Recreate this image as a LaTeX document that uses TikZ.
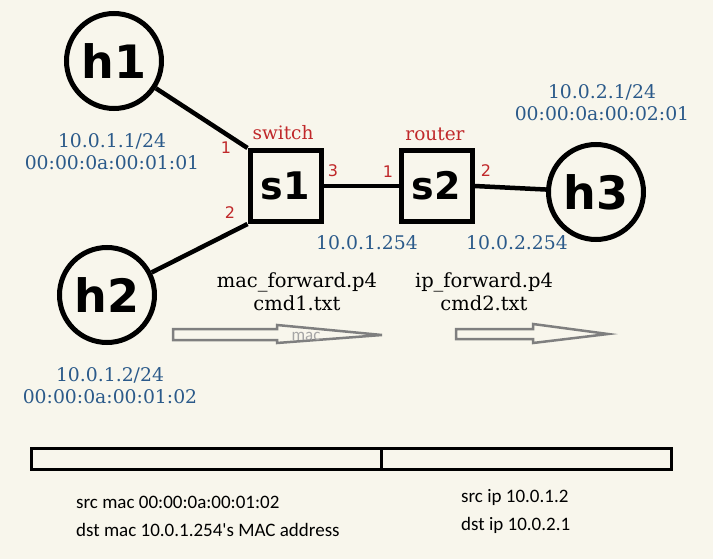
\documentclass[tikz,border=0pt]{standalone}
\usepackage{fontspec}
\newfontfamily\serifx{DejaVu Serif}
\newfontfamily\carl{Carlito}
\newfontfamily\handf{DejaVu Sans}
\definecolor{bgc}{HTML}{F8F6EC}
\definecolor{blu}{HTML}{2B5A8A}
\definecolor{rd}{HTML}{C0282A}
\definecolor{gry}{HTML}{7F7F7F}
\tikzset{
  host/.style={circle,draw,line width=5pt,minimum size=95pt,inner sep=0pt,font=\handf\bfseries\fontsize{46}{46}\selectfont},
  swbox/.style={rectangle,draw,line width=5pt,minimum size=71pt,inner sep=0pt,font=\handf\bfseries\fontsize{38}{38}\selectfont},
  link/.style={line width=4.5pt},
  bluetxt/.style={text=blu,font=\serifx\fontsize{18.8}{22.5}\selectfont,align=center,inner sep=0pt},
  blacktxt/.style={text=black,font=\serifx\fontsize{19.5}{23}\selectfont,align=center,inner sep=0pt},
  redtxt/.style={text=rd,font=\serifx\fontsize{18.5}{18.5}\selectfont,inner sep=0pt},
  porttxt/.style={text=rd,font=\handf\fontsize{16}{16}\selectfont,inner sep=0pt},
  bottxt/.style={font=\carl\fontsize{19}{19}\selectfont,inner sep=0pt,anchor=west},
  blockarrow/.style={draw=gry,line width=2.5pt,line join=miter},
}
\begin{document}
\begin{tikzpicture}[x=1pt,y=-1pt]
\fill[bgc] (0,0) rectangle (713,559);
\useasboundingbox (0,0) rectangle (713,559);

% hosts and switches
\node[host] (h1) at (114,61) {h1};
\node[host] (h2) at (107,295) {h2};
\node[host] (h3) at (596,192) {h3};
\node[swbox] (s1) at (285.5,186) {s1};
\node[swbox] (s2) at (436.5,186) {s2};

% links
\draw[link] (h1) -- (s1.north west);
\draw[link] (h2) -- (s1.south west);
\draw[link] (s1.east) -- (s2.west);
\draw[link] (s2.east) -- (h3);

% labels
\node[redtxt] (lsw) at (283,133) {switch};
\node[redtxt] (lrt) at (435,134) {router};
\node[porttxt] (p11) at (226,148) {1};
\node[porttxt] (p12) at (230,213) {2};
\node[porttxt] (p13) at (333,171) {3};
\node[porttxt] (p21) at (388,172) {1};
\node[porttxt] (p22) at (486,171) {2};

\node[bluetxt] (a1) at (112,151.5) {10.0.1.1/24\\00:00:0a:00:01:01};
\node[bluetxt] (a2) at (110,385.5) {10.0.1.2/24\\00:00:0a:00:01:02};
\node[bluetxt] (a3) at (602,102.5) {10.0.2.1/24\\00:00:0a:00:02:01};
\node[bluetxt] (g1) at (367,243) {10.0.1.254};
\node[bluetxt] (g2) at (517,243) {10.0.2.254};

\node[blacktxt] (f1) at (297,291.5) {mac\_forward.p4\\cmd1.txt};
\node[blacktxt] (f2) at (484,291.5) {ip\_forward.p4\\cmd2.txt};

% block arrows
\draw[blockarrow] (173,329) -- (277,329) -- (277,325) -- (382,335) -- (277,343) -- (277,340) -- (173,340) -- cycle;
\node[text=gry!70,font=\carl\fontsize{17}{17}\selectfont,inner sep=0pt] (mac) at (306,336) {mac};
\draw[blockarrow] (456,329) -- (533,329) -- (533,324) -- (608,334) -- (533,343) -- (533,339) -- (456,339) -- cycle;

% packet
\draw[line width=3pt] (31,448) rectangle (671,469);
\draw[line width=3pt] (381,448) -- (381,469);
\node[bottxt] (t1) at (76,502) {src mac 00:00:0a:00:01:02};
\node[bottxt] (t2) at (76,530) {dst mac 10.0.1.254's MAC address};
\node[bottxt] (t3) at (461,497) {src ip 10.0.1.2};
\node[bottxt] (t4) at (461,525) {dst ip 10.0.2.1};
\end{tikzpicture}
\end{document}
